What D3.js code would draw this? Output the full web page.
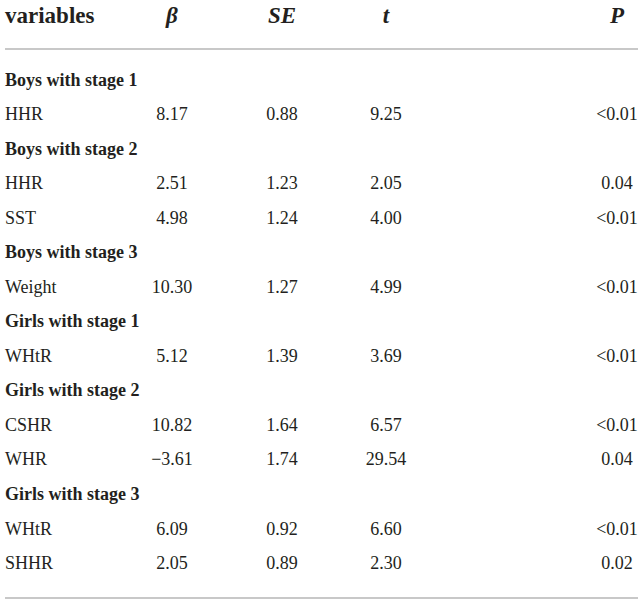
<!DOCTYPE html>
<html>
<head>
<meta charset="utf-8">
<script src="https://cdn.jsdelivr.net/npm/d3@7"></script>
<style>
  body { margin: 0; background: #fff; }
</style>
</head>
<body>
<div id="chart"></div>
<script>
// Column headers
const headers = ['variables', 'β', 'SE', 't', 'P'];

// Groups and the variables under each one
const groups = [
  'Boys with stage 1', 'Boys with stage 2', 'Boys with stage 3',
  'Girls with stage 1', 'Girls with stage 2', 'Girls with stage 3'
];
const variables = [
  ['HHR'],
  ['HHR', 'SST'],
  ['Weight'],
  ['WHtR'],
  ['CSHR', 'WHR'],
  ['WHtR', 'SHHR']
];
const betas = [['8.17'], ['2.51', '4.98'], ['10.30'], ['5.12'], ['10.82', '\u22123.61'], ['6.09', '2.05']];
const ses   = [['0.88'], ['1.23', '1.24'], ['1.27'], ['1.39'], ['1.64', '1.74'], ['0.92', '0.89']];
const tVals = [['9.25'], ['2.05', '4.00'], ['4.99'], ['3.69'], ['6.57', '29.54'], ['6.60', '2.30']];
const pVals = [['<0.01'], ['0.04', '<0.01'], ['<0.01'], ['<0.01'], ['<0.01', '0.04'], ['<0.01', '0.02']];

const FONT = '"Liberation Serif", "Times New Roman", "DejaVu Serif", serif';

// ============================================
// BUILD ROWS
// ============================================

const rows = [];
groups.forEach((g, gi) => {
  rows.push({ type: 'group', cells: [g] });
  variables[gi].forEach((v, vi) => {
    rows.push({
      type: 'data',
      cells: [v, betas[gi][vi], ses[gi][vi], tVals[gi][vi], pVals[gi][vi]]
    });
  });
});

const width = 642;
const height = 604;

const svg = d3.select('#chart')
  .append('svg')
  .attr('width', width)
  .attr('height', height)
  .attr('font-family', FONT);

// column positions
const colX = d3.scaleOrdinal()
  .domain(d3.range(headers.length))
  .range([5, 172, 282, 386, 617]);

const y = d3.scaleBand()
  .domain(d3.range(rows.length))
  .range([62, 580]);

// header
svg.append('g')
  .selectAll('text')
  .data(headers)
  .join('text')
  .attr('x', (d, i) => colX(i))
  .attr('y', 15)
  .attr('dy', '0.35em')
  .attr('text-anchor', (d, i) => i === 0 ? 'start' : 'middle')
  .attr('font-family', FONT)
  .attr('fill', '#231f20')
  .style('font-size', '23px')
  .style('font-weight', 'bold')
  .style('font-style', (d, i) => i === 0 ? 'normal' : 'italic')
  .text(d => d);

// rules
const rules = [49, 598];
svg.selectAll('line.rule')
  .data(rules)
  .join('line')
  .attr('class', 'rule')
  .attr('x1', 5)
  .attr('x2', 638)
  .attr('y1', d => d)
  .attr('y2', d => d)
  .attr('stroke', '#c8c8c8')
  .attr('stroke-width', 1.8);

// body
const rowG = svg.append('g')
  .selectAll('g')
  .data(rows)
  .join('g')
  .attr('transform', (d, i) => `translate(0,${y(i) + y.bandwidth() / 2})`);

rowG.selectAll('text')
  .data(d => d.cells.map((c, i) => ({ c, i, type: d.type })))
  .join('text')
  .attr('x', d => colX(d.i))
  .attr('dy', '0.35em')
  .attr('text-anchor', d => d.i === 0 ? 'start' : 'middle')
  .attr('font-family', FONT)
  .attr('fill', '#231f20')
  .style('font-size', '18px')
  .style('font-weight', d => d.type === 'group' ? 'bold' : 'normal')
  .text(d => d.c);
</script>
</body>
</html>
